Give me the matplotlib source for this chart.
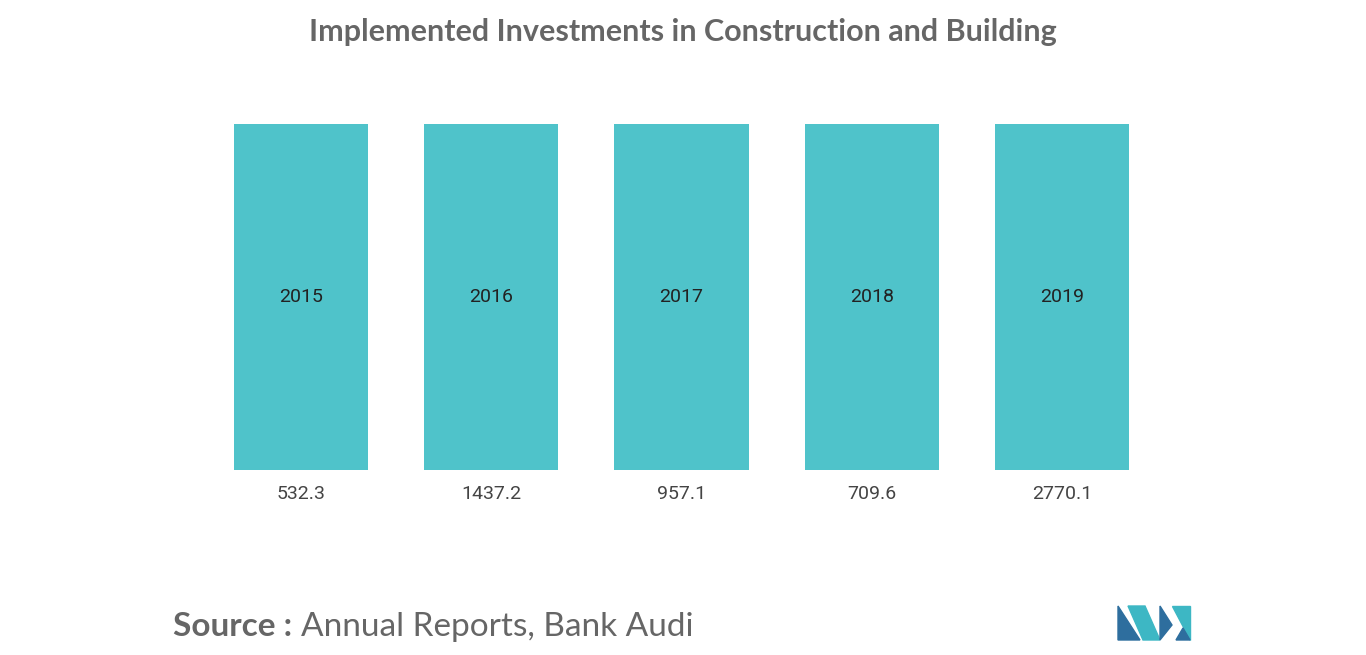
import matplotlib
matplotlib.use("Agg")
import matplotlib.pyplot as plt
from matplotlib.patches import Polygon

years = ["2015", "2016", "2017", "2018", "2019"]
values = ["532.3", "1437.2", "957.1", "709.6", "2770.1"]
bar_heights = [1, 1, 1, 1, 1]

W, H = 1366, 655
fig = plt.figure(figsize=(W/100, H/100), dpi=100)
ax = fig.add_axes([206/W, 1-470/H, (1157-206)/W, (470-124)/H])
x = list(range(len(years)))
ax.bar(x, bar_heights, width=134/190, color="#4FC3CA")
ax.set_xlim(-0.5, 4.5)
ax.set_ylim(0, 1)
for i in x:
    ax.text(i, bar_heights[i]*0.5, years[i], ha="center", va="center",
            fontsize=14, color="#222222", family="Roboto")
    ax.text(i, -0.07, values[i], ha="center", va="center",
            fontsize=14, color="#444444", family="Roboto")
ax.axis("off")

fig.text(683/W, 1-32/H, "Implemented Investments in Construction and Building",
         ha="center", va="center", fontsize=22, color="#666666", family="Lato", weight="bold")
t = fig.text(173/W, 1-627/H, "Source :", ha="left", va="center", fontsize=24,
             color="#666666", family="Lato", weight="bold")
fig.text(301/W, 1-627/H, "Annual Reports, Bank Audi", ha="left", va="center",
         fontsize=24, color="#666666", family="Lato")

# logo
def poly(pts, c):
    fig.patches.append(Polygon([(px/W, 1-py/H) for px, py in pts], closed=True,
                               transform=fig.transFigure, color=c))
poly([(1118, 640), (1118, 606), (1140, 640)], "#2E6E9E")
poly([(1128, 606), (1145, 606), (1160, 640), (1143, 640)], "#3DB7C4")
poly([(1160, 640), (1160, 606), (1172, 625)], "#2E6E9E")
poly([(1172, 606), (1190, 606), (1190, 640)], "#3DB7C4")
poly([(1176, 640), (1190, 640), (1183, 628)], "#2E6E9E")

fig.savefig("out.png", dpi=100)
